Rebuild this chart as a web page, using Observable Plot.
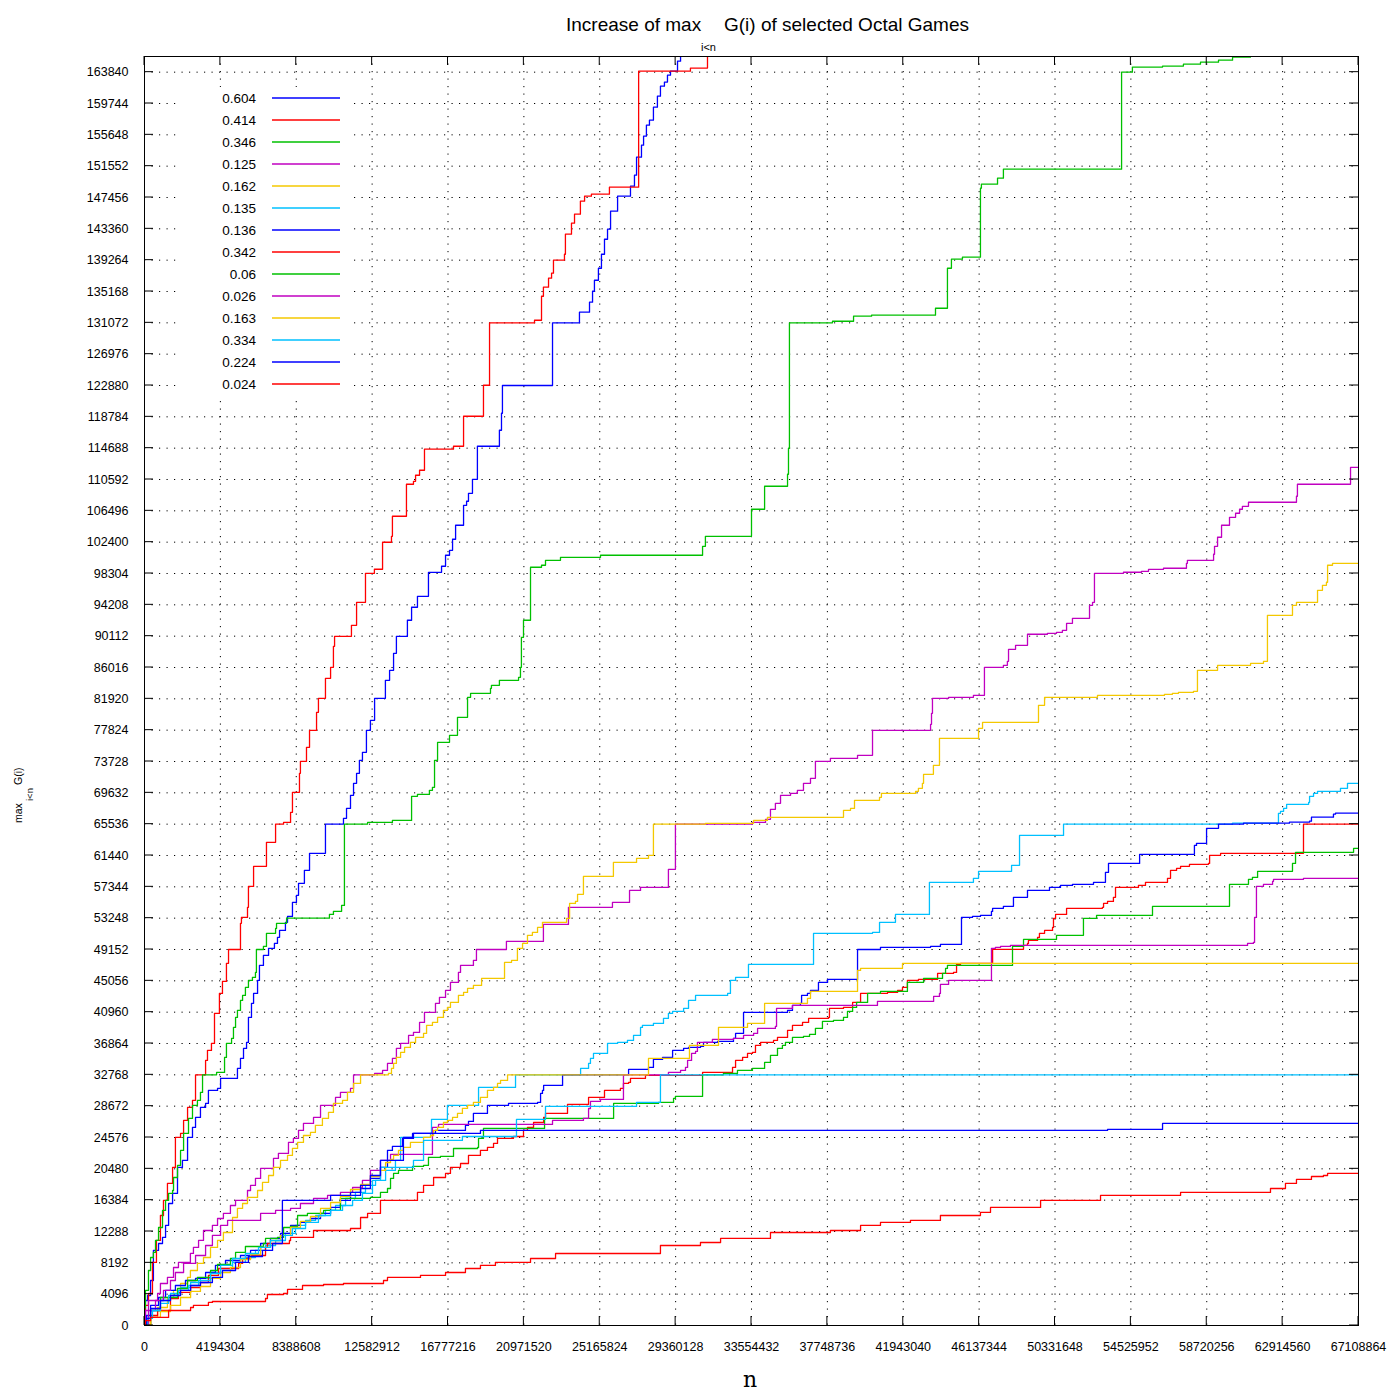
<!DOCTYPE html>
<html><head><meta charset="utf-8">
<script src="https://cdn.jsdelivr.net/npm/d3@7"></script>
<script src="https://cdn.jsdelivr.net/npm/@observablehq/plot@0.6"></script>
<style>body{margin:0;background:#fff;} #chart{width:1400px;height:1400px;}</style>
</head><body><div id="chart"></div>
<script>
// Each series: [n in units of 2^20, max_{i<n} G(i)]
const MI = 1048576;
const s0604 = [[0,0],[0.05,3270],[0.16,3920],[0.32,5880],[0.47,9810],[0.74,10720],[0.95,11510],[1.11,13080],[1.27,15950],[1.48,17260],[1.74,20660],[2.00,21580],[2.27,24580],[2.53,25890],[2.69,27200],[2.95,28510],[3.22,29030],[3.37,30730],[3.85,30990],[4.01,32300],[4.90,33610],[5.06,34910],[5.22,36220],[5.38,37010],[5.48,40270],[5.64,42110],[5.75,43410],[5.96,45110],[6.06,47070],[6.27,48380],[6.54,49300],[6.85,49950],[7.01,50740],[7.12,51650],[7.43,52700],[7.54,53480],[7.80,55310],[8.01,56230],[8.12,57800],[8.43,59500],[8.70,61720],[9.54,65540],[10.49,66300],[10.65,67600],[10.86,69300],[11.02,70870],[11.18,72180],[11.33,73880],[11.49,74930],[11.70,77800],[11.91,79110],[12.13,81990],[12.70,84340],[12.92,85650],[13.13,87870],[13.28,90090],[13.86,92190],[14.08,93890],[14.39,95320],[14.97,98460],[15.66,99250],[15.87,100690],[16.08,101340],[16.24,102780],[16.40,104610],[16.82,107220],[16.98,107750],[17.08,108790],[17.29,110620],[17.55,114940],[18.71,117030],[18.82,119250],[18.87,122880],[21.51,131070],[22.93,132460],[23.46,133770],[23.62,135200],[23.72,136640],[23.93,138210],[24.09,140040],[24.25,142000],[24.41,143310],[24.57,145670],[24.94,147630],[25.62,148940],[25.83,150380],[25.94,152730],[26.20,154300],[26.31,155470],[26.46,156910],[26.62,157570],[26.83,159270],[27.04,160700],[27.20,162010],[27.41,162540],[27.57,163450],[27.73,163970],[28.10,165280],[28.26,168000]];
const s0414 = [[0,0],[0.05,2620],[0.21,4180],[0.42,8240],[0.63,11120],[0.84,14380],[1.00,16350],[1.21,18570],[1.48,20660],[1.63,24580],[1.90,25110],[2.06,26810],[2.27,28510],[2.53,29420],[2.69,32770],[3.22,34650],[3.32,35960],[3.53,36870],[3.69,40800],[3.95,43410],[4.11,44980],[4.32,47340],[4.43,49150],[5.06,52570],[5.11,53350],[5.43,54660],[5.48,57400],[5.75,60020],[6.43,63160],[6.91,65540],[7.33,65770],[7.70,67080],[7.80,69700],[8.17,72180],[8.22,73750],[8.54,75580],[8.70,77800],[9.07,80160],[9.17,81990],[9.54,84600],[9.81,86040],[9.96,88790],[10.02,90090],[10.91,91530],[11.18,94540],[11.65,98330],[12.12,98860],[12.55,102390],[13.02,103170],[13.07,105790],[13.81,109970],[14.18,110360],[14.29,111150],[14.50,111800],[14.76,114550],[16.29,114940],[16.82,118860],[17.87,122910],[18.19,131070],[20.56,131410],[20.93,134550],[21.03,135730],[21.30,136910],[21.46,137560],[21.56,139260],[22.14,140040],[22.19,142660],[22.51,144100],[22.67,145280],[22.98,146980],[23.20,147630],[23.56,147890],[24.51,148810],[26.05,163970],[28.78,164370],[29.68,168000]];
const s0346 = [[0,0],[0.01,2350],[0.05,4580],[0.21,7190],[0.32,8890],[0.47,9550],[0.58,11120],[0.74,12810],[0.95,15040],[1.11,16350],[1.27,17260],[1.48,17650],[1.53,19350],[1.74,20920],[1.90,22880],[2.06,25110],[2.32,27070],[2.53,28770],[2.79,29420],[2.95,30470],[3.06,32770],[3.80,33080],[4.22,35040],[4.32,36870],[4.59,37530],[4.69,38970],[4.80,40270],[4.90,41190],[5.06,42500],[5.17,43150],[5.32,44200],[5.48,45110],[5.69,45500],[5.85,46160],[5.90,49150],[6.27,49560],[6.43,51260],[6.91,51910],[6.96,52570],[7.49,53250],[9.75,53740],[9.96,54140],[10.39,54920],[10.54,65540],[11.76,65770],[13.07,66030],[14.08,69170],[14.39,69430],[15.02,69960],[15.18,70350],[15.29,73880],[15.45,76230],[16.08,77150],[16.50,79500],[17.03,82120],[17.19,82640],[18.24,83290],[18.29,83690],[18.71,84340],[19.72,84730],[19.82,86040],[19.87,89960],[19.98,92190],[20.35,99120],[20.93,99380],[21.14,100030],[21.93,100420],[24.04,100690],[29.42,101860],[29.57,103170],[32.00,106700],[32.69,109710],[33.90,111280],[33.95,114680],[34.00,131070],[36.27,131280],[37.38,131940],[38.33,132070],[41.70,132980],[42.33,138210],[42.54,139390],[43.12,139650],[44.07,148680],[44.12,149200],[44.97,149980],[45.28,151160],[51.51,163840],[52.08,164500],[53.67,164630],[54.77,164890],[55.67,165150],[56.62,165410],[57.36,165800],[58.30,168000]];
const s0125 = [[0,0],[0.05,1960],[0.21,3270],[0.69,4180],[0.84,5490],[1.21,6280],[1.53,7580],[1.79,8240],[2.42,9420],[2.58,10200],[2.85,11120],[3.11,12420],[3.58,13080],[3.85,13990],[4.16,14650],[4.53,15690],[4.80,16350],[5.43,17650],[5.59,18310],[5.85,19220],[6.12,20530],[6.80,21840],[7.06,22490],[7.59,23930],[7.85,24450],[8.12,25500],[8.38,26410],[8.91,27200],[9.28,28770],[10.07,29810],[10.33,30470],[10.86,30990],[11.02,32770],[12.13,32950],[12.55,33340],[12.81,34260],[13.07,34910],[13.28,36220],[13.50,36870],[13.92,37920],[14.18,38310],[14.50,39620],[14.76,40930],[15.34,42110],[15.55,42890],[15.87,43810],[16.13,44850],[16.55,46160],[16.66,47070],[17.34,47730],[17.50,49150],[19.08,50210],[21.03,52430],[22.35,54660],[24.67,55310],[25.57,56880],[26.15,57270],[27.62,59630],[27.99,65540],[32.05,65770],[32.74,66170],[33.00,67470],[33.26,68260],[33.53,69300],[34.06,69560],[34.42,69960],[34.74,70870],[35.11,71530],[35.37,73750],[36.16,74140],[37.59,74530],[38.38,77800],[41.44,78590],[41.49,80030],[41.54,81990],[42.39,82120],[43.70,82380],[44.28,86040],[45.28,86300],[45.49,86820],[45.55,88390],[45.92,88920],[46.55,90360],[47.60,90490],[48.08,90620],[48.39,90880],[48.61,91790],[48.92,92450],[49.82,94150],[49.98,94540],[50.08,98330],[51.61,98470],[52.56,98590],[52.93,98850],[53.72,98990],[54.93,99640],[54.98,100030],[56.36,100820],[56.41,101860],[56.57,103040],[56.78,104610],[57.20,105650],[57.52,106180],[57.73,106700],[57.88,107090],[58.20,107620],[60.73,108400],[60.78,109970],[63.58,112190],[64,112190]];
const s0162 = [[0,0],[0.32,1050],[0.69,2350],[1.21,3660],[1.53,4580],[1.90,5490],[2.27,6280],[2.42,7190],[2.79,8110],[3.11,8890],[3.48,10200],[3.85,11120],[4.16,12160],[4.64,14120],[4.90,15300],[5.17,15950],[5.43,16740],[5.96,17650],[6.22,18700],[6.54,19610],[6.80,20660],[7.17,21580],[7.54,22230],[7.80,23150],[8.07,23930],[8.38,24840],[8.75,25240],[9.01,26150],[9.38,27070],[9.70,27850],[9.96,29030],[10.44,29420],[10.70,30470],[11.02,31640],[11.39,32770],[12.86,32950],[13.02,33610],[13.13,34260],[13.28,35040],[13.50,35700],[13.71,36350],[14.02,37010],[14.29,37660],[14.71,38180],[14.87,39230],[15.18,39620],[15.45,40270],[15.76,41190],[15.97,41580],[16.13,42240],[16.55,43150],[16.82,43540],[17.03,44070],[17.34,44460],[17.77,45370],[18.98,47470],[19.35,47730],[19.66,49300],[19.93,49950],[20.19,51000],[20.45,51390],[20.72,52040],[20.98,52700],[22.25,53220],[22.41,55180],[22.72,55440],[22.83,56360],[23.14,58710],[24.72,60540],[25.94,61070],[26.57,61460],[26.83,65540],[29.57,65650],[32.11,66030],[32.84,66430],[36.85,67340],[37.22,67600],[37.43,68650],[38.75,69040],[38.85,69560],[40.65,69830],[40.80,70220],[41.01,70870],[41.07,72050],[41.59,73230],[41.91,76760],[43.97,78060],[44.18,78850],[47.13,81070],[47.45,82120],[50.24,82380],[53.77,82510],[54.19,82640],[54.51,82770],[55.30,82900],[55.51,85650],[56.57,86300],[58.31,86560],[58.99,86820],[59.20,92840],[60.52,94150],[60.73,94540],[61.84,96110],[62.10,96760],[62.31,97160],[62.37,99380],[62.63,99640],[64,99640]];
const s0135 = [[0,0],[0.16,920],[0.32,1960],[0.84,3270],[1.37,4180],[1.90,4970],[2.43,5620],[2.95,6150],[3.48,6930],[4.01,7450],[4.64,8240],[5.32,8890],[5.85,9810],[6.38,10460],[6.91,11110],[7.43,12030],[7.96,13080],[8.49,13730],[9.02,14380],[9.54,15040],[10.07,15690],[10.60,16610],[11.12,17390],[11.65,18310],[12.18,18960],[12.71,20270],[13.23,21580],[13.50,24580],[15.08,25110],[15.13,26940],[15.97,28770],[17.61,31120],[19.56,32770],[22.99,33610],[23.41,34260],[23.51,34910],[23.67,35570],[24.41,36870],[24.94,37010],[25.46,37270],[25.78,37920],[26.15,38970],[26.25,39230],[26.83,39490],[27.36,40140],[27.62,40800],[27.84,41060],[28.42,41450],[28.68,42500],[29.05,43150],[30.74,43410],[30.89,45110],[31.16,45500],[31.84,47200],[35.27,51260],[38.38,51390],[38.75,52700],[39.59,53740],[41.38,57930],[43.70,58450],[43.97,59370],[45.71,60150],[46.13,64070],[48.45,65540],[57.36,65670],[59.78,66950],[59.89,67210],[60.05,67600],[60.21,68130],[61.37,68390],[61.42,69170],[61.63,69560],[61.84,69830],[63.05,70220],[63.42,70870],[64,70870]];
const s0136 = [[0,0],[0.11,1310],[0.32,2620],[0.74,3660],[1.11,4580],[1.63,5230],[2.16,5880],[2.69,6150],[3.22,6930],[3.74,7850],[4.27,8500],[5.06,9150],[5.59,9810],[6.12,10720],[6.64,11380],[7.17,12030],[7.70,13080],[8.22,13470],[8.75,13990],[9.28,14650],[9.81,15430],[10.33,16350],[10.86,17000],[11.39,17910],[11.91,19220],[12.44,20660],[12.81,22880],[13.07,23410],[13.60,24450],[14.18,25110],[15.34,25500],[16.92,26150],[17.08,26680],[17.34,27720],[18.08,28770],[19.19,29030],[20.72,29160],[20.88,30340],[20.98,30730],[21.04,31380],[22.04,32770],[25.52,33470],[26.57,33740],[26.83,34780],[27.31,35040],[27.84,35960],[28.42,36220],[28.68,36350],[29.31,36480],[29.47,37010],[30.21,37140],[31.05,37530],[31.16,38180],[31.58,40930],[33.90,41190],[34.16,41840],[34.58,42110],[34.64,43150],[34.95,43410],[35.11,43800],[35.53,44850],[36.01,45240],[37.59,49150],[38.80,49430],[41.44,49560],[41.96,49820],[43.07,53350],[43.65,53480],[44.07,53610],[44.65,54130],[44.71,54530],[45.28,54790],[45.81,55970],[46.55,56880],[47.71,57270],[48.29,57530],[48.92,57670],[50.03,57930],[50.66,59230],[50.82,60410],[52.46,61590],[55.35,62760],[55.46,63030],[55.99,64990],[56.62,65540],[57.94,65670],[60.36,65800],[61.42,65930],[61.52,66450],[62.68,66850],[62.79,66980],[64,66980]];
const s0342 = [[0,0],[0.32,1310],[0.69,1960],[1.37,3530],[1.79,4320],[2.43,4970],[2.95,5620],[3.37,6540],[3.90,7450],[4.96,8110],[5.17,8760],[5.59,9150],[6.38,10200],[6.48,10720],[7.64,11110],[7.70,11510],[8.91,12420],[10.86,12680],[11.39,14120],[11.76,14650],[12.44,16350],[14.39,17390],[14.71,18310],[15.24,19350],[15.87,19880],[16.13,20660],[16.66,21180],[17.08,22230],[17.71,22880],[18.08,23280],[18.40,23800],[18.61,24450],[19.45,24710],[19.98,25500],[20.19,25890],[20.51,26540],[21.04,27200],[21.14,27720],[22.30,28900],[23.41,29810],[24.25,30730],[25.09,30990],[25.25,31640],[25.52,31770],[25.62,32300],[26.41,32690],[29.42,33080],[31.00,33740],[31.16,34650],[31.53,35040],[31.79,35570],[32.05,35700],[32.21,36610],[32.48,37010],[33.16,37270],[33.37,37660],[33.90,38570],[34.16,39230],[34.69,39620],[35.01,40140],[36.06,40270],[36.11,41450],[36.85,41580],[37.33,42240],[37.75,43410],[39.17,43540],[39.70,43800],[39.96,44200],[40.22,45110],[40.80,45240],[41.81,46030],[42.65,46160],[42.81,47200],[43.02,47330],[44.71,49170],[46.34,49690],[46.55,49950],[46.60,50340],[47.08,50730],[47.18,51260],[47.45,51650],[47.87,52040],[47.92,53220],[48.03,53740],[48.61,54530],[50.50,54660],[50.56,55180],[50.77,55440],[51.08,55970],[51.19,57270],[52.40,57530],[52.77,57930],[53.93,58450],[54.09,59500],[54.41,59760],[54.62,60020],[55.09,60280],[56.09,60410],[56.15,61460],[56.73,61720],[61.10,65540],[64,65540]];
const s006 = [[0,0],[0.32,1960],[0.84,3660],[1.74,4840],[2.27,5880],[2.79,6280],[3.48,7190],[3.85,7980],[4.53,8760],[4.80,9550],[5.32,10330],[6.27,10720],[6.38,11380],[7.01,11510],[7.33,12810],[7.70,12950],[8.07,14380],[8.59,14650],[9.44,15040],[10.33,16610],[11.91,16740],[12.44,17390],[12.81,17910],[12.97,19220],[13.13,19880],[13.39,20270],[14.13,20790],[14.71,20920],[14.97,21970],[15.60,22100],[16.29,23140],[17.56,23280],[17.61,24450],[17.87,25760],[21.09,27070],[24.73,29030],[27.10,29160],[27.89,29680],[27.99,29940],[29.42,32770],[30.52,32950],[31.26,33340],[32.05,33610],[32.69,34390],[33.00,35310],[33.37,36220],[33.63,36610],[33.79,37010],[34.16,37660],[34.74,37790],[35.06,38050],[35.37,38840],[35.74,39750],[36.32,39880],[36.85,40270],[37.06,41060],[37.33,41580],[37.54,42240],[38.12,43410],[38.80,43670],[40.22,44850],[41.07,45370],[42.07,46030],[42.23,46680],[42.33,47070],[45.76,49560],[46.34,50470],[48.08,51000],[49.50,53220],[50.19,53610],[53.14,54790],[57.20,57670],[58.20,58320],[58.41,58580],[58.68,59370],[60.52,60410],[60.68,61850],[63.74,62370],[64,62370]];
const s0026 = [[0,0],[0.21,1960],[0.58,3270],[1.00,4580],[1.37,5880],[1.63,6930],[2.06,8110],[2.69,9150],[3.22,10460],[3.58,11770],[4.01,13080],[4.38,13730],[6.12,14650],[6.91,15040],[7.70,15300],[8.22,15950],[8.91,16610],[9.65,17000],[10.33,17390],[10.97,18040],[11.49,18960],[11.91,20270],[12.44,21580],[12.97,22360],[15.18,25890],[15.50,26280],[21.51,26810],[23.14,27070],[23.41,28370],[23.51,29290],[24.04,29550],[25.25,32770],[27.62,33080],[28.26,33340],[28.52,33740],[28.63,34650],[28.84,35570],[29.05,35830],[29.15,37010],[29.94,37400],[31.05,37530],[31.58,37920],[32.11,38180],[32.32,38840],[33.26,39100],[33.32,41450],[34.16,41840],[38.64,42370],[41.60,43020],[41.91,43410],[41.96,44590],[42.39,45110],[44.65,49300],[44.86,49430],[45.13,49560],[45.65,49690],[58.15,49950],[58.46,50080],[58.52,53350],[58.62,57400],[58.99,57670],[59.47,58060],[59.52,58320],[61.10,58450],[64,58450]];
const s0163 = [[0,0],[0.32,1050],[0.84,1830],[1.37,2620],[1.90,3660],[2.43,4450],[2.95,5100],[3.48,6150],[4.01,6930],[4.53,7580],[5.06,8630],[5.59,9280],[6.12,10200],[6.64,11110],[7.17,11770],[7.70,12810],[8.22,13600],[8.75,14250],[9.28,15300],[9.81,16080],[10.33,16870],[10.86,17780],[11.39,18440],[11.91,19480],[12.44,20270],[12.71,21310],[12.97,21710],[13.13,22230],[13.39,22880],[13.65,23280],[14.02,23930],[14.71,24580],[15.08,24840],[15.24,25500],[15.45,25890],[15.76,26540],[15.97,26810],[16.24,27200],[16.50,27720],[16.76,28380],[17.03,28770],[17.34,29160],[17.71,29810],[18.08,30730],[18.40,31120],[18.61,31640],[18.77,32040],[19.14,32770],[26.57,34910],[28.73,36610],[30.26,38970],[31.79,39490],[32.69,42110],[34.95,42760],[35.11,43670],[37.59,46420],[37.75,46680],[39.96,47340],[64,47340]];
const s0334 = [[0,0],[0.16,920],[0.42,1960],[0.84,2880],[1.27,3920],[1.79,4580],[2.32,5230],[2.85,5880],[3.48,6800],[4.01,7850],[4.64,8760],[5.32,9410],[6.01,10200],[6.64,11110],[7.27,11770],[7.80,12680],[8.49,13470],[9.17,14380],[9.81,15040],[10.44,15690],[10.97,16350],[11.49,17260],[12.02,18960],[12.44,20660],[14.18,21580],[14.71,24190],[16.76,24710],[19.61,26940],[21.14,28640],[25.94,29160],[27.20,32770],[64,32770]];
const s0224 = [[0,0],[0.11,920],[0.32,2220],[0.84,3270],[1.37,3920],[1.90,4580],[2.43,5230],[2.95,5620],[3.58,6280],[4.11,7190],[4.80,8240],[5.48,9020],[6.22,9810],[6.75,10720],[7.27,16350],[9.81,17000],[10.86,17390],[11.39,18310],[11.91,19610],[12.44,21580],[13.65,24580],[14.13,25110],[17.71,25500],[50.77,25630],[53.67,26410],[64,26410]];
const s0024 = [[0,0],[0.05,650],[0.32,1050],[1.27,1960],[2.43,2350],[2.58,2620],[3.37,3010],[3.58,3140],[6.38,3530],[6.48,4050],[7.33,4180],[7.54,4710],[8.33,5230],[9.44,5360],[10.49,5490],[12.60,5880],[12.81,6280],[14.55,6540],[15.87,6930],[16.92,7450],[17.71,7850],[18.50,8240],[20.35,8760],[21.67,9410],[27.20,10460],[29.31,10850],[30.37,11380],[33.00,12160],[36.16,12420],[37.75,13080],[38.80,13470],[40.38,13730],[41.96,14380],[44.07,14780],[44.60,15430],[47.24,16350],[50.40,17000],[54.62,17390],[59.36,17910],[60.15,18570],[60.73,19090],[61.52,19480],[62.15,19610],[62.37,19880],[64,19880]];

const labels = ["0.604","0.414","0.346","0.125","0.162","0.135","0.136","0.342","0.06","0.026","0.163","0.334","0.224","0.024"];
const colors = ["#0000ff","#ff0000","#00c000","#c000c0","#f4c800","#00c0ff","#0000ff","#ff0000","#00c000","#c000c0","#f4c800","#00c0ff","#0000ff","#ff0000"];
const seriesData = [s0604,s0414,s0346,s0125,s0162,s0135,s0136,s0342,s006,s0026,s0163,s0334,s0224,s0024];

const xTicks = [0,4194304,8388608,12582912,16777216,20971520,25165824,29360128,33554432,37748736,41943040,46137344,50331648,54525952,58720256,62914560,67108864];
const yTicks = [0,4096,8192,12288,16384,20480,24576,28672,32768,36864,40960,45056,49152,53248,57344,61440,65536,69632,73728,77824,81920,86016,90112,94208,98304,102400,106496,110592,114688,118784,122880,126976,131072,135168,139264,143360,147456,151552,155648,159744,163840];

const lineMarks = seriesData.map((pts, i) => Plot.line(pts, {
  x: d => d[0] * MI, y: d => d[1], curve: "step-after",
  stroke: colors[i], strokeWidth: 1.3, clip: true
}));

const chart = Plot.plot({
  width: 1400, height: 1400,
  marginLeft: 144, marginRight: 42, marginTop: 56, marginBottom: 75,
  style: {background: "#fff", fontFamily: "'Liberation Sans', Arial, sans-serif", fontSize: "12.5px", color: "#000"},
  x: {domain: [0, 67108864]},
  y: {domain: [0, 165888]},
  marks: [
    Plot.gridX(xTicks, {stroke: "#000", strokeOpacity: 1, strokeWidth: 1, strokeDasharray: "1.2,6.3"}),
    Plot.gridY(yTicks, {stroke: "#000", strokeOpacity: 1, strokeWidth: 1, strokeDasharray: "1.2,6.3"}),
    Plot.axisX(xTicks, {tickSize: 0, tickPadding: 17, tickFormat: d => String(d), label: null}),
    Plot.axisY(yTicks, {tickSize: 0, tickPadding: 16, tickFormat: d => String(d), label: null}),
    ...lineMarks,
    Plot.frame({stroke: "#000", strokeWidth: 1})
  ]
});
document.getElementById("chart").appendChild(chart);

const svg = d3.select(chart);
const xs = chart.scale("x"), ys = chart.scale("y");
const L = 144, R = 1358, T = 56, B = 1325, TL = 9;
const tg = svg.append("g").attr("stroke", "#000").attr("stroke-width", 1);
yTicks.forEach(v => {
  const y = ys.apply(v);
  tg.append("line").attr("x1", L).attr("x2", L + TL).attr("y1", y).attr("y2", y);
  tg.append("line").attr("x1", R).attr("x2", R - TL).attr("y1", y).attr("y2", y);
});
xTicks.forEach(v => {
  const x = xs.apply(v);
  tg.append("line").attr("x1", x).attr("x2", x).attr("y1", B).attr("y2", B - TL);
  tg.append("line").attr("x1", x).attr("x2", x).attr("y1", T).attr("y2", T + TL);
});

// legend
const lg = svg.append("g");
lg.append("rect").attr("x", 180).attr("y", 87).attr("width", 172).attr("height", 309).attr("fill", "#fff");
labels.forEach((lab, i) => {
  const y = 98 + 22 * i;
  lg.append("text").attr("x", 256).attr("y", y).attr("dy", "0.35em").attr("text-anchor", "end")
    .attr("font-size", 13.5).attr("fill", "#000").text(lab);
  lg.append("line").attr("x1", 272).attr("x2", 340).attr("y1", y).attr("y2", y)
    .attr("stroke", colors[i]).attr("stroke-width", 1.3);
});

// title
const ff = "'Liberation Sans', Arial, sans-serif";
const txt = (x, y, size, s, extra) => {
  const t = svg.append("text").attr("text-anchor", "start").attr("font-size", size).attr("font-family", ff).attr("fill", "#000").text(s);
  if (extra) t.attr("transform", `translate(${x},${y}) rotate(-90)`); else t.attr("x", x).attr("y", y);
  return t;
};
txt(566, 31, 19, "Increase of max");
txt(701, 51, 11, "i<n");
txt(724, 31, 19, "G(i) of selected Octal Games");

// y label (rotated)
txt(22, 823, 10.5, "max", true);
txt(33, 801, 9.5, "i<n", true);
txt(22, 785, 10.5, "G(i)", true);

// x label
svg.append("text").attr("x", 750).attr("y", 1387).attr("text-anchor", "middle").attr("font-size", 22)
  .attr("font-family", "'DejaVu Serif', 'Liberation Serif', serif").attr("fill", "#000").text("n");
</script>
</body></html>
